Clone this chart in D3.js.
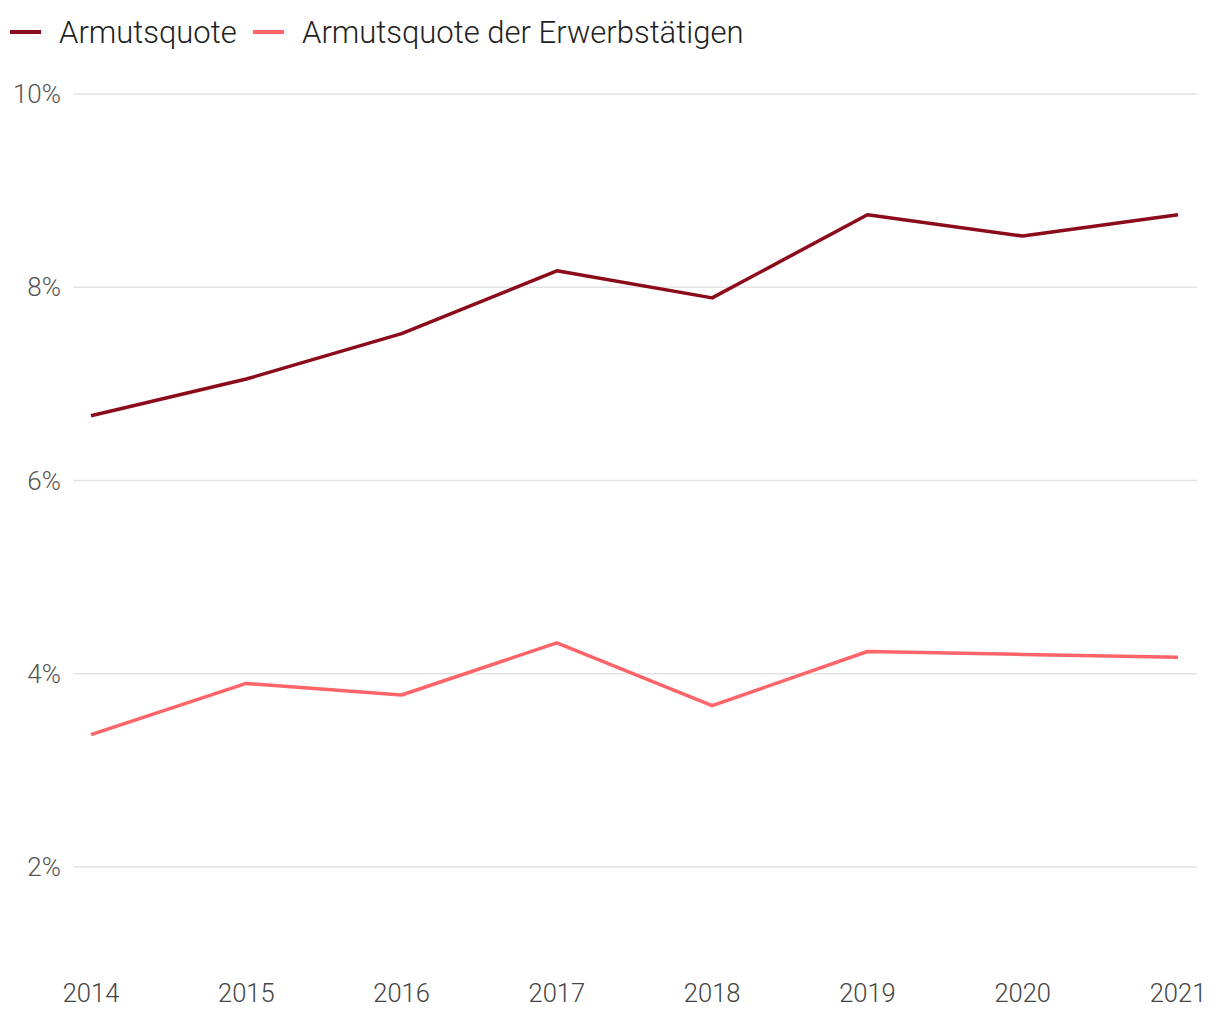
<!DOCTYPE html>
<html><head><meta charset="utf-8">
<script src="https://cdn.jsdelivr.net/npm/d3@7"></script>
<style>
body{margin:0;background:#fff;}
svg text{font-family:Roboto, "Noto Sans", sans-serif;font-weight:300;}
</style></head>
<body><svg id="c" width="1220" height="1020"></svg>
<script>
const years = [2014, 2015, 2016, 2017, 2018, 2019, 2020, 2021];
const armutsquote = [6.67, 7.05, 7.52, 8.17, 7.89, 8.75, 8.53, 8.75];
const armutsquoteErwerb = [3.37, 3.90, 3.78, 4.32, 3.67, 4.23, 4.20, 4.17];
const yTicks = [2, 4, 6, 8, 10];
const seriesNames = ["Armutsquote", "Armutsquote der Erwerbstätigen"];
const colors = ["#8c0b1b", "#ff6468"];

const svg = d3.select("#c");
const x = d3.scalePoint().domain(years).range([91, 1178]);
const y = d3.scaleLinear().domain([2, 10]).range([867, 94]);

// grid
svg.append("g").selectAll("line").data(yTicks).join("line")
  .attr("x1", 73).attr("x2", 1197)
  .attr("y1", d => y(d)).attr("y2", d => y(d))
  .attr("stroke", "#e3e3e3").attr("stroke-width", 1.5);

// y labels
svg.append("g").selectAll("text").data(yTicks).join("text")
  .attr("x", 61).attr("y", d => y(d) + 9)
  .attr("text-anchor", "end").attr("font-size", 26).attr("fill", "#555")
  .text(d => d + "%");

// x labels
svg.append("g").selectAll("text").data(years).join("text")
  .attr("x", d => x(d)).attr("y", 1002)
  .attr("text-anchor", "middle").attr("font-size", 25.5).attr("fill", "#444")
  .text(d => d);

const line = d3.line().x((d, i) => x(years[i])).y(d => y(d));
[armutsquote, armutsquoteErwerb].forEach((s, k) => {
  svg.append("path").datum(s).attr("d", line)
    .attr("fill", "none").attr("stroke", colors[k]).attr("stroke-width", 3.5)
    .attr("stroke-linejoin", "round");
});

// legend
const legX = [10, 253];
seriesNames.forEach((n, k) => {
  svg.append("line").attr("x1", legX[k]).attr("x2", legX[k] + 31)
    .attr("y1", 32).attr("y2", 32).attr("stroke", colors[k]).attr("stroke-width", 4);
  svg.append("text").attr("x", legX[k] + 49).attr("y", 43)
    .attr("font-size", 31).attr("fill", "#222").text(n);
});
</script></body></html>
